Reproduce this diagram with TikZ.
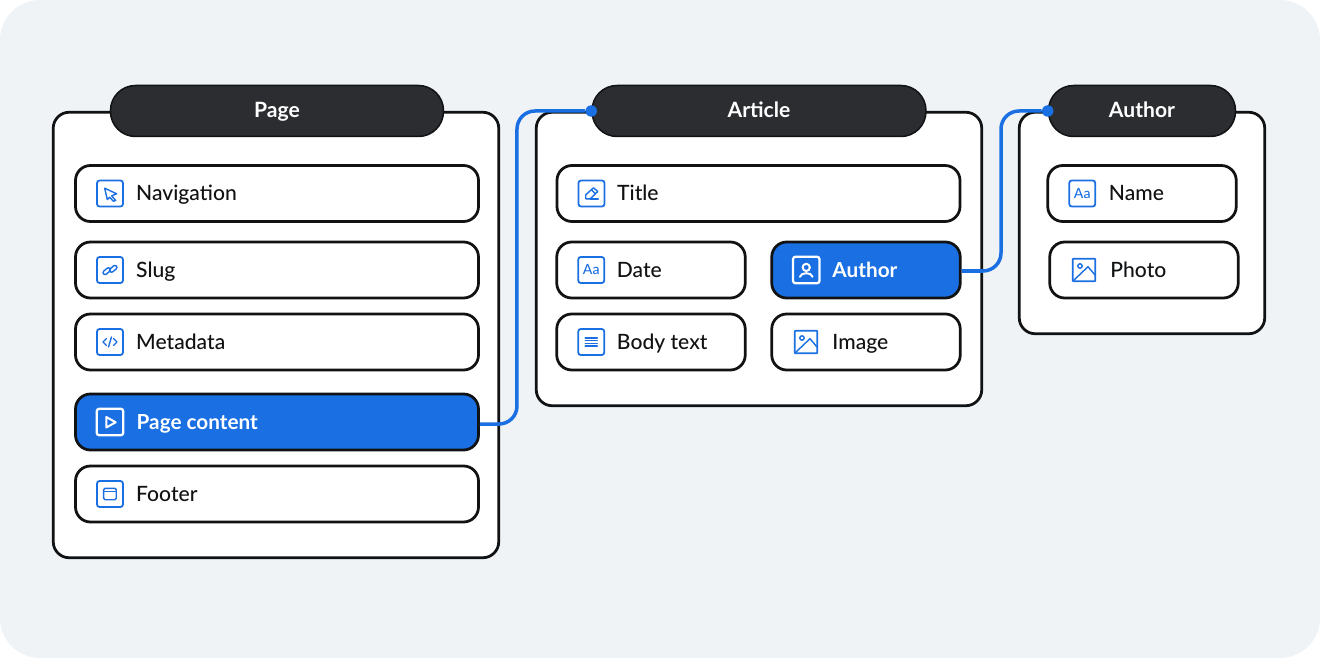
\documentclass[tikz,border=0pt]{standalone}
\usepackage{fontspec}
\setmainfont{Lato Medium}[BoldFont={Lato Bold}]
\usetikzlibrary{positioning}
\definecolor{bgcol}{HTML}{EFF3F6}
\definecolor{linkblue}{HTML}{1A6FE3}
\definecolor{headcol}{HTML}{2B2D31}
\definecolor{inkcol}{HTML}{111214}
\tikzstyle{panel} = [rectangle, draw=inkcol, line width=0.055cm, fill=white, rounded corners=0.32cm]
\tikzstyle{head} = [rectangle, draw=inkcol, line width=0.03cm, fill=headcol, rounded corners=0.5cm, minimum height=1.02cm, text=white, text height=0.36cm, text depth=0.08cm, font=\fontsize{12}{14}\bfseries]
\tikzstyle{rowbox} = [rectangle, draw=inkcol, line width=0.055cm, fill=white, rounded corners=0.3cm, minimum height=1.12cm]
\tikzstyle{rowhot} = [rowbox, fill=linkblue]
\tikzstyle{iconbox} = [rectangle, draw=linkblue, line width=0.035cm, rounded corners=0.05cm, minimum width=0.52cm, minimum height=0.52cm, inner sep=0pt, text=linkblue, font=\fontsize{8}{9}\selectfont]
\tikzstyle{iconhot} = [iconbox, draw=white, line width=0.045cm, minimum width=0.53cm, minimum height=0.53cm]
\tikzstyle{iconpic} = [iconbox, rounded corners=0.01cm, minimum width=0.45cm, minimum height=0.45cm]
\tikzstyle{rowtext} = [inner sep=0pt, text=inkcol, text height=0.38cm, text depth=0.08cm, font=\fontsize{12}{14}\selectfont]
\tikzstyle{rowhottext} = [rowtext, text=white, font=\fontsize{11.8}{14}\bfseries]
\tikzstyle{link} = [draw=linkblue, line width=0.07cm, rounded corners=0.36cm]
\tikzstyle{linkdot} = [circle, fill=linkblue, inner sep=0pt, minimum size=0.23cm]
\tikzstyle{glyph} = [draw=linkblue, line width=0.028cm, line join=round, line cap=round]
\tikzstyle{glyphhot} = [draw=white, line width=0.04cm, line join=round, line cap=round]
\tikzset{glyphat/.style={shift={(#1.center)}, x=0.02cm, y=-0.02cm}}
\newcommand{\picglyph}[1]{
    \begin{scope}[glyphat=#1]
        \draw[glyph] (-4,-4) circle (2.2);
        \draw[glyph] (-10.5,10.5) -- (4,-3.3) -- (11,5);
    \end{scope}
}

\begin{document}
\begin{tikzpicture}
        \useasboundingbox (-13.2,-6.58) rectangle (13.2,6.58);
        \node[rectangle, fill=bgcol, rounded corners=0.8cm, minimum width=26.4cm, minimum height=13.16cm, inner sep=0pt, outer sep=0pt] (bg) at (0,0) {};

        % three panels
        \node[panel, minimum width=8.91cm, minimum height=8.91cm] (pagebox) at (-7.68,-0.12) {};
        \node[panel, minimum width=8.91cm, minimum height=5.87cm, right of=pagebox, node distance=9.66cm, yshift=1.52cm] (artbox) {};
        \node[panel, minimum width=4.91cm, minimum height=4.43cm, right of=artbox, node distance=7.66cm, yshift=0.72cm] (authbox) {};

        % page rows
        \node[rowbox, minimum width=8.06cm, above of=pagebox, node distance=2.83cm, xshift=0.02cm] (nav) {};
        \node[rowbox, minimum width=8.06cm, below of=nav, node distance=1.53cm] (slug) {};
        \node[rowbox, minimum width=8.06cm, below of=slug, node distance=1.44cm] (meta) {};
        \node[rowhot, minimum width=8.06cm, below of=meta, node distance=1.60cm] (content) {};
        \node[rowbox, minimum width=8.06cm, below of=content, node distance=1.44cm] (foot) {};

        \node[iconbox, right=0.44cm of nav.west] (navicon) {};
        \node[iconbox, right=0.44cm of slug.west] (slugicon) {};
        \node[iconbox, right=0.44cm of meta.west] (metaicon) {};
        \node[iconhot, right=0.43cm of content.west] (contenticon) {};
        \node[iconbox, right=0.44cm of foot.west] (footicon) {};

        \node[rowtext, right=0.24cm of navicon] (navtext) {Navigation};
        \node[rowtext, right=0.24cm of slugicon] (slugtext) {Slug};
        \node[rowtext, right=0.24cm of metaicon] (metatext) {Metadata};
        \node[rowhottext, right=0.24cm of contenticon] (contenttext) {Page content};
        \node[rowtext, right=0.24cm of footicon] (foottext) {Footer};

        % article rows
        \node[rowbox, minimum width=8.06cm, above of=artbox, node distance=1.31cm, xshift=-0.01cm] (title) {};
        \node[rowbox, minimum width=3.77cm, below of=title, node distance=1.53cm, xshift=-2.15cm] (date) {};
        \node[rowhot, minimum width=3.77cm, right of=date, node distance=4.30cm] (writer) {};
        \node[rowbox, minimum width=3.77cm, below of=date, node distance=1.44cm] (body) {};
        \node[rowbox, minimum width=3.77cm, right of=body, node distance=4.30cm] (image) {};

        \node[iconbox, right=0.44cm of title.west] (titleicon) {};
        \node[iconbox, right=0.44cm of date.west] (dateicon) {Aa};
        \node[iconhot, right=0.43cm of writer.west] (writericon) {};
        \node[iconbox, right=0.44cm of body.west] (bodyicon) {};
        \node[iconpic, right=0.47cm of image.west] (imageicon) {};

        \node[rowtext, right=0.23cm of titleicon] (titletext) {Title};
        \node[rowtext, right=0.23cm of dateicon] (datetext) {Date};
        \node[rowhottext, right=0.23cm of writericon] (writertext) {Author};
        \node[rowtext, right=0.23cm of bodyicon] (bodytext) {Body text};
        \node[rowtext, right=0.28cm of imageicon] (imagetext) {Image};

        % author rows
        \node[rowbox, minimum width=3.77cm, above of=authbox, node distance=0.59cm] (name) {};
        \node[rowbox, minimum width=3.77cm, below of=name, node distance=1.53cm, xshift=0.04cm] (photo) {};

        \node[iconbox, right=0.44cm of name.west] (nameicon) {Aa};
        \node[iconpic, right=0.47cm of photo.west] (photoicon) {};

        \node[rowtext, right=0.25cm of nameicon] (nametext) {Name};
        \node[rowtext, right=0.28cm of photoicon] (phototext) {Photo};

        % panel heads
        \node[head, minimum width=6.66cm, above of=pagebox, node distance=4.48cm, xshift=0.02cm] (pagehead) {Page};
        \node[head, minimum width=6.68cm, above of=artbox, node distance=2.96cm] (arthead) {Article};
        \node[head, minimum width=3.74cm, above of=authbox, node distance=2.24cm] (authhead) {Author};

        % connectors
        \node[linkdot] (artdot) at (pagehead.west -| arthead.west) {};
        \node[linkdot] (authdot) at (authhead.west) {};
        \coordinate[right of=content, node distance=4.80cm, yshift=-0.04cm] (bend1);
        \coordinate[right of=writer, node distance=2.70cm, yshift=-0.02cm] (bend2);
        \draw[link] (content.east |- bend1) -- (bend1) |- (artdot);
        \draw[link] (writer.east |- bend2) -- (bend2) |- (authdot);

        % icon glyphs
        \begin{scope}[glyphat=navicon]
            \draw[glyph] (-5.3,-5.3) -- (6.7,0.3) -- (1.7,2.3) -- (5.7,7) -- (3.3,7.7) -- (-0.3,3.7) -- (-2.7,6) -- cycle;
        \end{scope}
        \begin{scope}[glyphat=slugicon]
            \draw[glyph, rounded corners=1.2pt, rotate=40] (-7.5,-3.2) rectangle (1,0.8);
            \draw[glyph, rounded corners=1.2pt, rotate=40] (-1,-0.8) rectangle (7.5,3.2);
        \end{scope}
        \begin{scope}[glyphat=metaicon]
            \draw[glyph] (-3.5,-3.5) -- (-7,0) -- (-3.5,3.5);
            \draw[glyph] (3.5,-3.5) -- (7,0) -- (3.5,3.5);
            \draw[glyph] (1.5,-5) -- (-1.5,5);
        \end{scope}
        \begin{scope}[glyphat=contenticon]
            \draw[glyphhot] (-3.7,-5) -- (5.7,0.3) -- (-3.7,5.5) -- cycle;
        \end{scope}
        \begin{scope}[glyphat=footicon]
            \draw[glyph, rounded corners=0.8pt] (-6.3,-5.7) rectangle (6.3,5.7);
            \draw[glyph] (-6.3,-2.3) -- (6.3,-2.3);
        \end{scope}
        \begin{scope}[glyphat=titleicon]
            \draw[glyph] (-5.7,5.3) -- (-5.7,1.3) -- (2,-5.7) -- (6.3,-2) -- (-1.3,5.3) -- cycle;
            \draw[glyph] (-1.3,5.3) -- (6.7,5.3);
            \draw[glyph] (0,-3.7) -- (4,0.3);
        \end{scope}
        \begin{scope}[glyphat=writericon]
            \draw[glyphhot] (0,-2.6) circle (3.6);
            \draw[glyphhot] (-6.3,6.8) .. controls (-5.5,2) and (5.5,2) .. (6.3,6.8);
        \end{scope}
        \begin{scope}[glyphat=bodyicon]
            \draw[glyph] (-6,-4) -- (6,-4);
            \draw[glyph] (-6,-1.4) -- (6,-1.4);
            \draw[glyph] (-6,1.2) -- (6,1.2);
            \draw[glyph] (-6,3.8) -- (6,3.8);
        \end{scope}
        \picglyph{imageicon}
        \picglyph{photoicon}
\end{tikzpicture}
\end{document}
